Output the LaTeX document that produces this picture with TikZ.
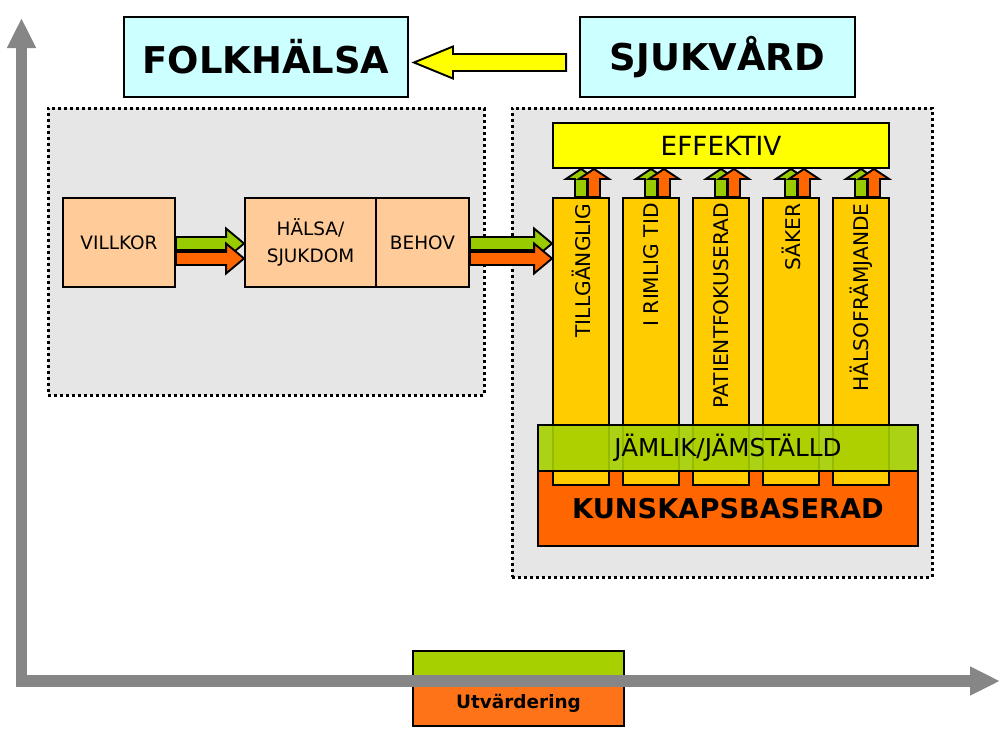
\documentclass[tikz,border=0pt]{standalone}
\usepackage{fontspec}
\setmainfont{DejaVu Sans}
\usetikzlibrary{calc,arrows.meta}
\definecolor{ljusbla}{HTML}{CCFFFF}
\definecolor{ljusgra}{HTML}{E6E6E6}
\definecolor{persika}{HTML}{FFCC99}
\definecolor{gul}{HTML}{FFFF00}
\definecolor{pelargul}{HTML}{FFCC00}
\definecolor{pilgron}{HTML}{99CC00}
\definecolor{bandgron}{HTML}{A6D000}
\definecolor{pilorange}{HTML}{FF6600}
\definecolor{utvorange}{HTML}{FF7318}
\definecolor{axelgra}{HTML}{868686}

% horisontell blockpil: farg, fran, till, y-forskjutning
\newcommand{\hpil}[4]{%
  \coordinate (p0) at ($(#2.east)+(0,#4)$);
  \coordinate (p1) at (#3.west |- p0);
  \draw[pilkant,fill=#1] ($(p0)+(0,-6.5)$) -- ($(p1)+(-18,-6.5)$) -- ($(p1)+(-18,-15)$) -- (p1)
    -- ($(p1)+(-18,15)$) -- ($(p1)+(-18,6.5)$) -- ($(p0)+(0,6.5)$) -- cycle;}
% lodrat blockpil: farg, fran, till, x-forskjutning
\newcommand{\vpil}[4]{%
  \coordinate (q0) at ($(#2.north)+(#4,0)$);
  \coordinate (q1) at (q0 |- #3.south);
  \draw[pilkant,fill=#1] ($(q0)+(-6,0)$) -- ($(q1)+(-6,10)$) -- ($(q1)+(-15,10)$) -- (q1)
    -- ($(q1)+(15,10)$) -- ($(q1)+(6,10)$) -- ($(q0)+(6,0)$) -- cycle;}

\begin{document}
\begin{tikzpicture}[x=0.2mm,y=-0.2mm,
    ruta/.style={draw,line width=0.38mm,inner sep=0pt},
    pilkant/.style={draw,line width=0.38mm},
    stl/.style 2 args={minimum width=#1*0.2mm,minimum height=#2*0.2mm},
    prickad/.style={draw,fill=ljusgra,line width=0.6mm,dash pattern=on 0.6mm off 0.6mm,inner sep=0pt},
    axel/.style={draw=axelgra,line width=2.3mm,line cap=rect,-{Triangle[length=6mm,width=5.4mm]}},
    rubrik/.style={font=\fontsize{21}{24}\selectfont\bfseries},
    liten/.style={font=\fontsize{10.5}{15}\selectfont,align=center},
    pelartext/.style={font=\fontsize{11.5}{14}\selectfont,rotate=90,anchor=east,inner sep=0pt}]
  \useasboundingbox (0,0) rectangle (1004,744);

  % rubriker
  \node[ruta,fill=ljusbla,stl={284}{80},rubrik] (folk) at (266,57) {FOLKHÄLSA};
  \node[ruta,fill=ljusbla,stl={275}{80},rubrik] (sjuk) at (717.5,57) {SJUKVÅRD};
  \coordinate (y0) at ($(sjuk.west)+(-13,5.5)$);
  \coordinate (y1) at ($(folk.east)+(5,5.5)$);
  \draw[pilkant,fill=gul] ($(y0)+(0,-8.5)$) -- ($(y1)+(39,-8.5)$) -- ($(y1)+(39,-16)$) -- (y1)
    -- ($(y1)+(39,16)$) -- ($(y1)+(39,8.5)$) -- ($(y0)+(0,8.5)$) -- cycle;

  % folkhalsa-delen
  \node[prickad,stl={436}{287}] (vanster) at (266,251.5) {};
  \node[ruta,fill=persika,stl={112}{89},liten] (villkor) at (119,242.5) {VILLKOR};
  \node[ruta,fill=persika,stl={131}{89},liten] (halsa) at (310.5,242.5) {HÄLSA/\\SJUKDOM};
  \node[ruta,fill=persika,stl={93}{89},liten] (behov) at (422.5,242.5) {BEHOV};
  \hpil{pilgron}{villkor}{halsa}{1}
  \hpil{pilorange}{villkor}{halsa}{16}

  % sjukvard-delen
  \node[prickad,stl={420}{469}] (hoger) at (722,342.5) {};
  \node[ruta,fill=gul,stl={336}{45},font=\fontsize{15}{18}\selectfont] (effektiv) at (721,145.5) {EFFEKTIV};
  \node[ruta,fill=pilorange,stl={380}{75},font=\fontsize{15.5}{18}\selectfont\bfseries] (kunskap) at (728,508.5) {KUNSKAPSBASERAD};
  \foreach \i/\txt in {1/TILLGÄNGLIG,2/I RIMLIG TID,3/PATIENTFOKUSERAD,4/SÄKER,5/HÄLSOFRÄMJANDE}{
    \node[ruta,fill=pelargul,stl={56}{287}] (k\i) at (511+70*\i,341.5) {};
    \node[pelartext] (t\i) at ($(k\i.north)+(0,6)$) {\txt};
    \vpil{pilgron}{k\i}{effektiv}{0}
    \vpil{pilorange}{k\i}{effektiv}{13}
  }
  \node[ruta,fill=bandgron,fill opacity=0.9,text opacity=1,stl={380}{46},font=\fontsize{14}{17}\selectfont] (jamlik) at (728,448) {JÄMLIK/JÄMSTÄLLD};
  \hpil{pilgron}{behov}{k1}{1}
  \hpil{pilorange}{behov}{k1}{16}

  % utvardering och axlar
  \node[ruta,fill=utvorange,stl={211}{75},
    path picture={\fill[bandgron] (path picture bounding box.north west) rectangle ($(path picture bounding box.north east)+(0,28)$);}] (utv) at (518.5,688.5) {};
  \node[font=\fontsize{10.5}{13}\selectfont\bfseries] (utvtext) at ($(utv.center)+(0,15)$) {Utvärdering};
  \coordinate (origo) at (21.5,681);
  \coordinate (ytopp) at (21.5,18);
  \coordinate (xspets) at (1000,681);
  \draw[axel] (origo) -- (ytopp);
  \draw[axel] (origo) -- (xspets);
\end{tikzpicture}
\end{document}
